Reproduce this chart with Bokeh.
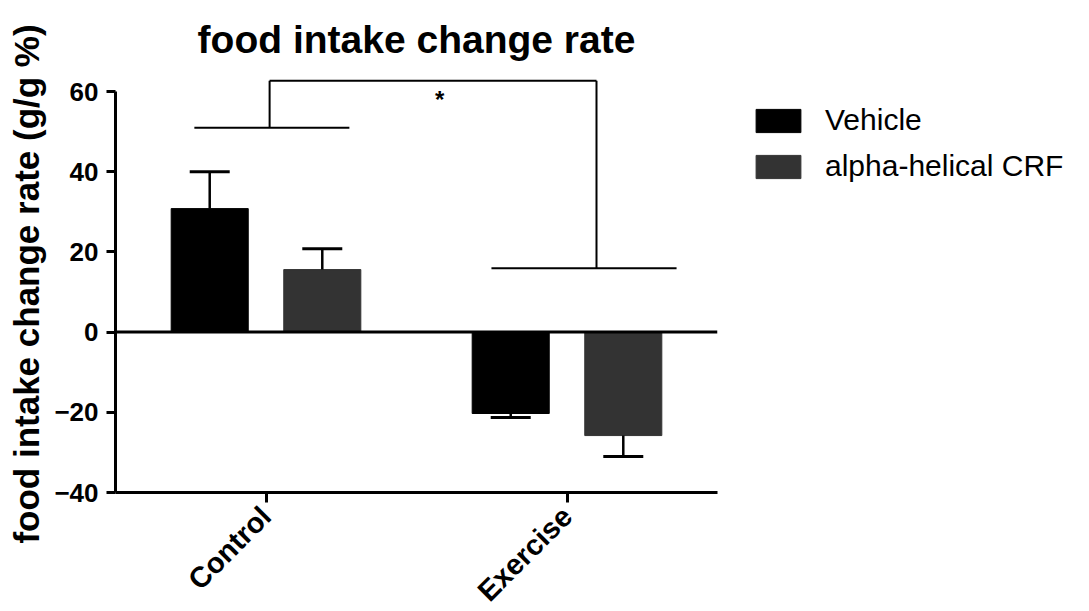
import numpy as np
from bokeh.plotting import figure
from bokeh.models import (Range1d, FixedTicker, Span, Whisker, TeeHead,
                          ColumnDataSource, Legend, LegendItem)
from bokeh.embed import file_html
from bokeh.resources import INLINE
from bokeh.core.properties import value

# ---- data -------------------------------------------------------------
groups = ["Control", "Exercise"]
series_names = ["Vehicle", "alpha-helical CRF"]
vehicle_mean = [30.8, -20.3]
vehicle_sem = [9.2, 1.0]
crf_mean = [15.6, -25.8]
crf_sem = [5.2, 5.2]
y_ticks = [-40, -20, 0, 20, 40, 60]

# significance bracket heights (y units)
bracket_left_y = 51.0
bracket_right_y = 15.9
bracket_top_y = 62.7
star_y = 58.0

# ---- layout constants ---------------------------------------------------
FONT = "Liberation Sans"
BAR_OFFSET = 0.187
BAR_WIDTH = 0.256
VEHICLE_COLOR = "#000000"
CRF_COLOR = "#333333"

gx = np.arange(len(groups), dtype=float)

p = figure(frame_width=602, frame_height=417, output_backend="svg", toolbar_location=None,
           x_range=Range1d(-0.5, 1.5), y_range=Range1d(-40, 64),
           min_border_left=115, min_border_right=0,
           min_border_top=75, min_border_bottom=119)
p.outline_line_color = None
p.grid.visible = False
p.background_fill_color = "white"
p.border_fill_color = "white"

# title
p.title.text = "food intake change rate"
p.title.text_font = FONT
p.title.text_font_size = "39px"
p.title.text_font_style = "bold"
p.title.text_color = "black"
p.title.align = "center"
p.title.standoff = 30

# y axis
ya = p.yaxis[0]
ya.ticker = FixedTicker(ticks=y_ticks)
ya.bounds = (-40, 60)
ya.axis_line_width = 3
ya.major_tick_line_width = 3
ya.major_tick_out = 9
ya.major_tick_in = 0
ya.minor_tick_line_color = None
ya.major_label_standoff = 8
ya.major_label_text_font = FONT
ya.major_label_text_font_style = "bold"
ya.major_label_text_font_size = "26px"
ya.major_label_text_color = "black"
ya.axis_label = "food intake change rate (g/g %)"
ya.axis_label_text_font = FONT
ya.axis_label_text_font_style = "bold"
ya.axis_label_text_font_size = "35px"
ya.axis_label_text_color = "black"
ya.axis_label_standoff = 5

# x axis
xa = p.xaxis[0]
xa.ticker = FixedTicker(ticks=list(gx))
xa.major_label_overrides = {float(i): g for i, g in zip(gx, groups)}
xa.major_label_overrides.update({int(i): g for i, g in zip(gx, groups)})
xa.axis_line_width = 3
xa.major_tick_line_width = 3
xa.major_tick_out = 10
xa.major_tick_in = 0
xa.minor_tick_line_color = None
xa.major_label_orientation = np.pi / 4
xa.major_label_standoff = 9
xa.major_label_text_font = FONT
xa.major_label_text_font_style = "bold"
xa.major_label_text_font_size = "29px"
xa.major_label_text_color = "black"

# zero line
p.add_layout(Span(location=0, dimension="width", line_color="black", line_width=3))

# bars
r_veh = p.vbar(x=gx - BAR_OFFSET, top=vehicle_mean, bottom=0, width=BAR_WIDTH,
               fill_color=VEHICLE_COLOR, line_color=VEHICLE_COLOR)
r_crf = p.vbar(x=gx + BAR_OFFSET, top=crf_mean, bottom=0, width=BAR_WIDTH,
               fill_color=CRF_COLOR, line_color=CRF_COLOR)

# error bars: one whisker set for bars above zero, one for bars below
xs = np.concatenate([gx - BAR_OFFSET, gx + BAR_OFFSET])
means = np.array(vehicle_mean + crf_mean)
sems = np.array(vehicle_sem + crf_sem)
pos = means >= 0
up_src = ColumnDataSource(dict(x=xs[pos], lower=means[pos], upper=means[pos] + sems[pos]))
dn_src = ColumnDataSource(dict(x=xs[~pos], lower=means[~pos] - sems[~pos], upper=means[~pos]))
p.add_layout(Whisker(source=up_src, base="x", lower="lower", upper="upper",
                     line_width=2.5, line_color="black", level="overlay",
                     lower_head=None,
                     upper_head=TeeHead(size=40, line_width=3, line_color="black")))
p.add_layout(Whisker(source=dn_src, base="x", lower="lower", upper="upper",
                     line_width=2.5, line_color="black", level="overlay",
                     upper_head=None,
                     lower_head=TeeHead(size=40, line_width=3, line_color="black")))

# significance bracket
c, e = gx[0], gx[1]
seg_x0 = [c - 0.238, c + 0.012, c + 0.012, e + 0.098, e - 0.251]
seg_x1 = [c + 0.277, c + 0.012, e + 0.098, e + 0.098, e + 0.364]
seg_y0 = [bracket_left_y, bracket_left_y, bracket_top_y, bracket_top_y, bracket_right_y]
seg_y1 = [bracket_left_y, bracket_top_y, bracket_top_y, bracket_right_y, bracket_right_y]
p.segment(x0=seg_x0, y0=seg_y0, x1=seg_x1, y1=seg_y1, line_color="black", line_width=2)
p.text(x=[c + 0.577], y=[star_y], text=["*"], text_font=value(FONT),
       text_font_style="bold", text_font_size="24px",
       text_align="center", text_baseline="middle", text_color="black")

# legend, to the right of the plot frame
legend = Legend(items=[LegendItem(label=series_names[0], renderers=[r_veh]),
                       LegendItem(label=series_names[1], renderers=[r_crf])],
                location=(33, 309), orientation="vertical",
                glyph_width=56, glyph_height=29, label_standoff=19,
                label_text_font=FONT, label_text_font_size="30px",
                label_text_color="black",
                label_height=23, spacing=12, padding=0, margin=0,
                border_line_color=None, background_fill_alpha=0)
p.add_layout(legend, "right")

open("out.html", "w").write(file_html(p, INLINE))
